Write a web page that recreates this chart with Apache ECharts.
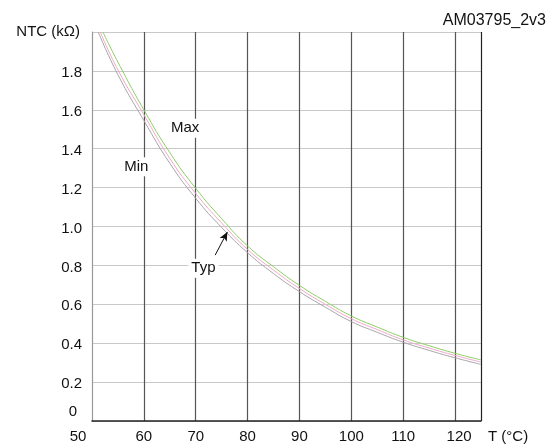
<!DOCTYPE html>
<html>
<head>
<meta charset="utf-8">
<script src="https://cdn.jsdelivr.net/npm/echarts@6/dist/echarts.min.js"></script>
<style>
html,body{margin:0;padding:0;background:#fff;}
#c{width:551px;height:446px;}
</style>
</head>
<body>
<div id="c"></div>
<script>
// Temperatures (°C) and resistance (kΩ)
const tempMax = [52.1, 55, 60, 65, 70, 75, 80, 85, 90, 95, 100, 105, 110, 115, 120, 125];
const ntcMax  = [2.00, 1.845, 1.600, 1.380, 1.196, 1.040, 0.900, 0.793, 0.697, 0.615, 0.540, 0.483, 0.430, 0.387, 0.348, 0.314];
const tempTyp = [51.6, 55, 60, 65, 70, 75, 80, 85, 90, 95, 100, 105, 110, 115, 120, 125];
const ntcTyp  = [2.00, 1.805, 1.575, 1.350, 1.170, 1.018, 0.882, 0.776, 0.681, 0.600, 0.526, 0.470, 0.417, 0.375, 0.337, 0.303];
const tempMin = [51.2, 55, 60, 65, 70, 75, 80, 85, 90, 95, 100, 105, 110, 115, 120, 125];
const ntcMin  = [2.00, 1.780, 1.545, 1.325, 1.145, 0.995, 0.865, 0.758, 0.665, 0.585, 0.511, 0.456, 0.405, 0.363, 0.325, 0.291];

const xTicks = [50, 60, 70, 80, 90, 100, 110, 120];
const yTicks = [0, 0.2, 0.4, 0.6, 0.8, 1.0, 1.2, 1.4, 1.6, 1.8];
const seriesNames = ['Max', 'Typ', 'Min'];

const FONT = '"Liberation Sans", Arial, sans-serif';
const zip = (a, b) => a.map((v, i) => [v, b[i]]);

const chart = echarts.init(document.getElementById('c'), null, {renderer: 'canvas'});

function labelPoint(name, coord) {
  return {
    symbol: 'circle', symbolSize: 0,
    label: {
      show: true, position: 'inside', formatter: name,
      fontFamily: FONT, fontSize: 15, color: '#111',
      backgroundColor: '#fff', padding: [2, 3, 2, 3]
    },
    data: [{coord: coord}]
  };
}

const option = {
  animation: false,
  backgroundColor: '#fff',
  title: {
    text: 'AM03795_2v3', right: 5, top: 13, padding: 0,
    textStyle: {fontFamily: FONT, fontSize: 16, fontWeight: 'normal', color: '#111'}
  },
  grid: {left: 92, right: 70, top: 32, bottom: 25, containLabel: false},
  xAxis: {
    type: 'value', min: 50, max: 125, interval: 10,
    name: 'T (°C)', nameLocation: 'end', nameGap: 7,
    nameTextStyle: {fontFamily: FONT, fontSize: 15, color: '#111', align: 'left', verticalAlign: 'top', padding: [8, 0, 0, 0]},
    axisLine: {show: true, lineStyle: {color: '#222', width: 1.5}},
    axisTick: {show: false},
    axisLabel: {
      fontFamily: FONT, fontSize: 15, color: '#111', margin: 8,
      showMaxLabel: false,
      formatter: function (v) {
        if (xTicks.indexOf(v) < 0) return '';
        if (v === 50) return '{l|' + v + '}';
        if (v === 120) return '{r|' + v + '}';
        return String(v);
      },
      rich: {
        l: {fontFamily: FONT, fontSize: 15, color: '#111', padding: [0, 28, 0, 0]},
        r: {fontFamily: FONT, fontSize: 15, color: '#111', padding: [0, 0, 0, 8]}
      }
    },
    splitLine: {show: true, lineStyle: {color: ['#999', '#555', '#555', '#555', '#555', '#555', '#555', '#555', '#222'], width: 1.2}}
  },
  yAxis: {
    type: 'value', min: 0, max: 2.0, interval: 0.2,
    name: 'NTC (kΩ)', nameLocation: 'end', nameGap: 0,
    nameTextStyle: {fontFamily: FONT, fontSize: 15, color: '#111', align: 'right', verticalAlign: 'middle', padding: [0, 12, 0, 0]},
    axisLine: {show: true, lineStyle: {color: '#999', width: 1}},
    axisTick: {show: false},
    axisLabel: {
      fontFamily: FONT, fontSize: 15, color: '#111', margin: 10,
      showMaxLabel: false,
      formatter: function (v) {
        const r = Math.round(v * 10) / 10;
        if (r === 0) return '{z|0}';
        const idx = yTicks.findIndex(t => Math.abs(t - r) < 1e-6);
        if (idx < 0) return '';
        return '{n|' + r.toFixed(1) + '}';
      },
      rich: {
        z: {fontFamily: FONT, fontSize: 15, color: '#111', padding: [0, 5, 18, 0]},
        n: {fontFamily: FONT, fontSize: 15, color: '#111', padding: [4, 0, 0, 0]}
      }
    },
    splitLine: {show: true, lineStyle: {color: '#c8c8c8', width: 1}}
  },
  series: [
    {
      name: seriesNames[0], type: 'line', smooth: true, showSymbol: false, z: 3,
      data: zip(tempMax, ntcMax),
      lineStyle: {color: '#8ccf5f', width: 1},
      markPoint: labelPoint('Max', [67.96, 1.505])
    },
    {
      name: seriesNames[1], type: 'line', smooth: true, showSymbol: false, z: 3,
      data: zip(tempTyp, ntcTyp),
      lineStyle: {color: '#f2a6cf', width: 1},
      markPoint: labelPoint('Typ', [71.48, 0.785]),
      markLine: {
        silent: true, symbol: ['none', 'arrow'], symbolSize: [6, 9],
        label: {show: false},
        lineStyle: {color: '#111', width: 1, type: 'solid'},
        data: [[{coord: [73.75, 0.853]}, {coord: [76.1, 0.972]}]]
      }
    },
    {
      name: seriesNames[2], type: 'line', smooth: true, showSymbol: false, z: 3,
      data: zip(tempMin, ntcMin),
      lineStyle: {color: '#a6a6a6', width: 1},
      markPoint: labelPoint('Min', [58.53, 1.307])
    }
  ]
};
chart.setOption(option);
</script>
</body>
</html>
